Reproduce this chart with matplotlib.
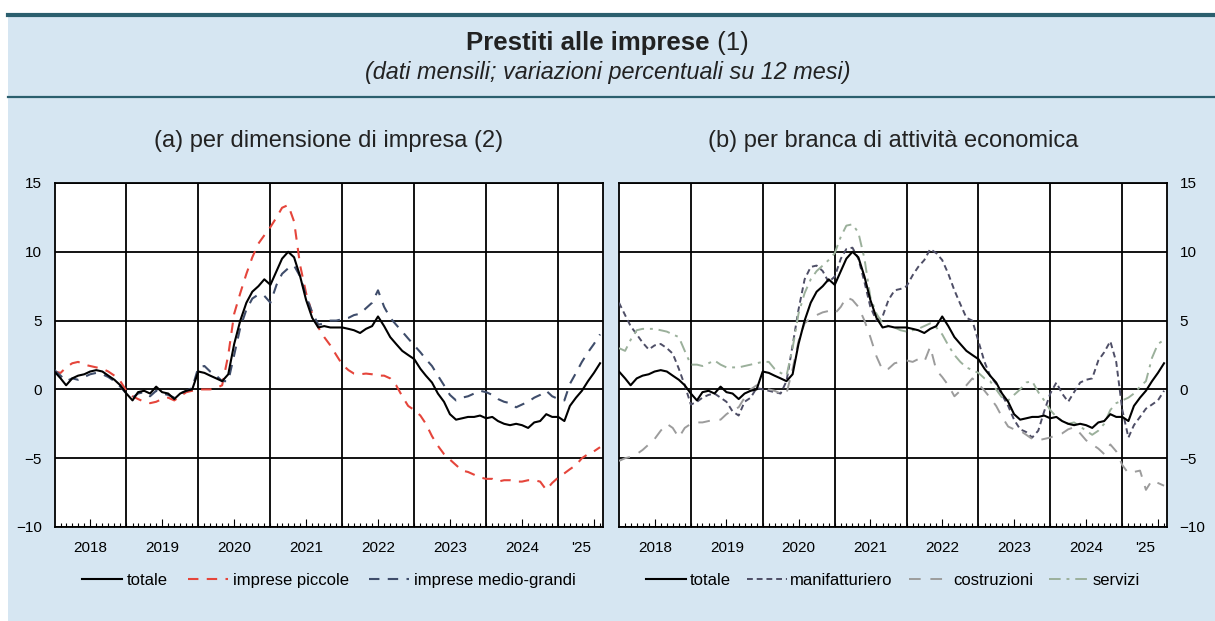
import pandas as pd
import matplotlib
matplotlib.use("Agg")
import matplotlib.pyplot as plt
from matplotlib.lines import Line2D
from matplotlib.patches import Rectangle

plt.rcParams['font.family'] = ['Liberation Sans', 'DejaVu Sans']

# dati mensili gen 2018 - ago 2025 (variazioni % su 12 mesi)
mesi = pd.date_range("2018-01-01", periods=92, freq="MS")

totale = [1.3, 0.8, 0.3, 0.8, 1.0, 1.1, 1.3, 1.4, 1.3, 1.0, 0.7, 0.3,
          -0.3, -0.8, -0.2, -0.1, -0.3, 0.2, -0.2, -0.3, -0.7, -0.3, -0.1, 0.0,
          1.3, 1.2, 1.0, 0.8, 0.6, 1.1, 3.3, 5.0, 6.3, 7.1, 7.5, 8.0,
          7.6, 8.6, 9.5, 10.0, 9.6, 8.2, 6.5, 5.2, 4.5, 4.6, 4.5, 4.5,
          4.5, 4.4, 4.3, 4.1, 4.4, 4.6, 5.3, 4.6, 3.8, 3.3, 2.8, 2.5,
          2.2, 1.5, 1.0, 0.5, -0.3, -0.9, -1.8, -2.2, -2.1, -2.0, -2.0, -1.9,
          -2.1, -2.0, -2.3, -2.5, -2.6, -2.5, -2.6, -2.8, -2.4, -2.3, -1.8, -2.0,
          -2.0, -2.3, -1.2, -0.6, -0.1, 0.6, 1.2, 1.9]

imprese_piccole = [1.3, 1.2, 1.6, 1.9, 2.0, 1.8, 1.7, 1.6, 1.5, 1.3, 1.0, 0.6,
                   -0.1, -0.5, -0.7, -0.9, -1.0, -0.9, -0.7, -0.6, -0.8, -0.5, -0.2, -0.1,
                   0.0, 0.0, 0.0, 0.1, 0.3, 2.5, 5.5, 7.0, 8.4, 9.6, 10.6, 11.2,
                   11.8, 12.5, 13.2, 13.4, 12.2, 9.0, 7.0, 5.5, 4.5, 3.8, 3.2, 2.5,
                   1.8, 1.4, 1.15, 1.1, 1.15, 1.1, 1.0, 1.0, 0.8, 0.3, -0.5, -1.2,
                   -1.5, -1.9, -2.5, -3.4, -4.1, -4.7, -5.1, -5.5, -5.9, -6.0, -6.2, -6.4,
                   -6.5, -6.5, -6.7, -6.6, -6.6, -6.7, -6.7, -6.6, -6.6, -6.7, -7.3, -6.8,
                   -6.4, -6.1, -5.8, -5.5, -5.0, -4.7, -4.5, -4.2]

imprese_medio_grandi = [1.4, 1.0, 0.6, 0.8, 0.7, 0.9, 1.1, 1.2, 1.1, 0.9, 0.6, 0.2,
                        -0.3, -0.6, -0.3, -0.2, -0.5, -0.1, -0.3, -0.4, -0.6, -0.3, -0.1, 0.1,
                        1.6, 1.7, 1.3, 1.0, 0.6, 0.6, 2.5, 4.5, 5.8, 6.6, 6.9, 6.8,
                        6.3, 7.6, 8.4, 8.8, 9.0, 8.2, 6.8, 5.6, 4.7, 4.8, 5.0, 5.0,
                        5.1, 5.2, 5.4, 5.5, 5.9, 6.3, 7.2, 6.0, 5.2, 4.7, 4.2, 3.7,
                        3.2, 2.7, 2.2, 1.7, 1.0, 0.3, -0.4, -0.8, -0.6, -0.5, -0.3, -0.1,
                        -0.2, -0.4, -0.7, -0.9, -1.0, -1.3, -1.1, -0.9, -0.6, -0.4, -0.1, -0.5,
                        -0.7, -0.8, 0.4, 1.2, 2.0, 2.7, 3.3, 4.0]

manifatturiero = [6.3, 5.4, 4.6, 4.0, 3.4, 2.9, 3.2, 3.3, 3.0, 2.6, 1.5, 0.3,
                  -1.1, -0.9, -0.6, -0.4, -0.3, -0.6, -0.9, -1.6, -1.9, -0.9, -0.6, 0.1,
                  0.0, -0.1, -0.2, -0.3, 0.6, 3.2, 5.8, 8.0, 8.9, 9.0, 8.6, 7.8,
                  8.2, 9.5, 10.2, 10.3, 9.5, 7.8, 6.0, 5.0, 5.3, 6.5, 7.2, 7.3,
                  7.5, 8.3, 8.9, 9.4, 10.2, 9.9, 9.4, 8.4, 7.2, 6.2, 5.2, 5.0,
                  3.5, 2.0, 1.0, 0.4, -0.4, -1.2, -2.2, -2.9, -3.1, -3.5, -3.0, -1.6,
                  -0.3, 0.5, -0.3, -0.9, -0.2, 0.5, 0.7, 0.8, 2.1, 2.7, 3.5, 2.0,
                  -1.5, -3.5, -2.6, -2.0, -1.4, -1.1, -0.8, -0.1]

costruzioni = [-5.2, -5.0, -4.9, -4.7, -4.4, -4.0, -3.6, -3.0, -2.5, -2.8, -3.5, -2.8,
               -2.5, -2.4, -2.4, -2.3, -2.2, -2.2, -1.8, -1.5, -1.3, -0.6, 0.0, 0.3,
               0.2, 0.0, -0.1, -0.3, -0.3, 1.5, 3.5, 4.8, 5.2, 5.4, 5.6, 5.7,
               5.5, 6.0, 6.7, 6.5, 6.0, 5.0, 3.8, 2.4, 1.4, 1.5, 1.9, 2.0,
               2.1, 2.0, 2.2, 2.0, 3.1, 1.4, 0.9, 0.3, -0.5, -0.1, 0.3, 0.8,
               0.4, -0.1, -0.6, -1.2, -2.0, -2.7, -2.9, -3.0, -3.3, -3.6, -3.7, -3.6,
               -3.5, -3.3, -3.2, -2.9, -2.75, -3.2, -3.7, -4.0, -4.3, -4.7, -4.0, -4.5,
               -5.5, -6.1, -6.0, -5.9, -7.3, -6.6, -6.8, -7.0]

servizi = [3.0, 2.8, 3.6, 4.3, 4.4, 4.4, 4.4, 4.3, 4.2, 4.0, 3.8, 2.8,
           1.8, 1.8, 1.7, 1.9, 2.1, 1.8, 1.6, 1.6, 1.6, 1.7, 1.8, 1.9,
           2.0, 2.0, 1.5, 1.2, 1.0, 3.0, 5.5, 7.0, 8.0, 8.6, 9.0, 9.4,
           9.9, 11.1, 11.9, 12.0, 11.4, 9.5, 6.7, 5.5, 4.8, 4.6, 4.5, 4.3,
           4.2, 4.3, 4.4, 4.6, 4.8, 4.5, 4.0, 3.2, 2.5, 2.0, 1.6, 1.4,
           1.2, 0.8, 0.6, 0.0, -0.6, -0.8, -0.4, 0.0, 0.5, 0.6, -0.2, -0.8,
           -1.5, -2.0, -2.3, -2.5, -2.4, -2.7, -3.0, -3.3, -3.0, -2.5, -1.5, -1.0,
           -0.8, -0.6, -0.3, 0.2, 0.6, 2.3, 3.3, 3.6]

anni = [2018, 2019, 2020, 2021, 2022, 2023, 2024, 2025]
etichette_anni = ["2018", "2019", "2020", "2021", "2022", "2023", "2024", "'25"]

W, H = 1215, 621
BG = "#d6e6f2"
TEAL = "#2b5f6e"

fig = plt.figure(figsize=(W / 100, H / 100), dpi=100)
fig.patch.set_facecolor("white")
fig.patches.append(Rectangle((8 / W, 0), 1 - 8 / W, 1 - 13 / H, transform=fig.transFigure,
                             facecolor=BG, edgecolor="none", zorder=-10))
fig.lines.append(Line2D([8 / W, 1], [1 - 15 / H] * 2, transform=fig.transFigure, color=TEAL, lw=3))
fig.lines.append(Line2D([8 / W, 1], [1 - 97 / H] * 2, transform=fig.transFigure, color=TEAL, lw=1.6))

# titolo: parte in grassetto + "(1)"
renderer = fig.canvas.get_renderer()
t1 = fig.text(0.5, 1 - 43 / H, "Prestiti alle imprese", fontsize=18.5, fontweight="bold",
              ha="left", va="center", color="#222222")
t2 = fig.text(0.5, 1 - 43 / H, " (1)", fontsize=18.5, ha="left", va="center", color="#222222")
w1 = t1.get_window_extent(renderer).width
w2 = t2.get_window_extent(renderer).width
x_start = (W - (w1 + w2)) / 2
t1.set_x(x_start / W)
t2.set_x((x_start + w1) / W)
fig.text(0.5, 1 - 73 / H, "(dati mensili; variazioni percentuali su 12 mesi)", fontsize=16.8,
         style="italic", ha="center", va="center", color="#222222")

x_fine = pd.Timestamp("2025-08-16")


def prepara_asse(ax, lato):
    ax.set_facecolor("white")
    ax.set_xlim(pd.Timestamp("2018-01-01"), x_fine)
    ax.set_ylim(-10, 15)
    ax.set_yticks(range(-10, 16, 5))
    ax.set_axisbelow(True)
    ax.yaxis.grid(True, color="black", lw=1.3)
    for a in anni[1:]:
        ax.axvline(pd.Timestamp(f"{a}-01-01"), color="black", lw=1.3, zorder=1)
    for s in ax.spines.values():
        s.set_linewidth(1.3)
        s.set_color("black")
    if lato == "right":
        ax.yaxis.tick_right()
    ax.tick_params(axis="y", length=0, labelsize=11, pad=9)

    # etichette anni al centro di ogni anno visibile
    pos = []
    for a in anni:
        inizio = pd.Timestamp(f"{a}-01-01")
        fine = min(pd.Timestamp(f"{a + 1}-01-01"), x_fine)
        pos.append(inizio + (fine - inizio) / 2)
    ax.set_xticks(pos)
    ax.set_xticklabels(etichette_anni)
    ax.tick_params(axis="x", which="major", length=0, labelsize=11, pad=10)

    tacche = pd.date_range("2018-02-01", "2025-08-01", freq="MS")
    ax.set_xticks(tacche, minor=True)
    ax.tick_params(axis="x", which="minor", direction="in", length=3, width=0.8)
    for tk, d in zip(ax.xaxis.get_minor_ticks(), tacche):
        if d.month == 7:
            tk.tick1line.set_markersize(6)


axL = fig.add_axes([54.5 / W, 1 - 527 / H, (603 - 54.5) / W, 344 / H])
axR = fig.add_axes([619 / W, 1 - 527 / H, (1167 - 619) / W, 344 / H])
prepara_asse(axL, "left")
prepara_asse(axR, "right")

# (a) per dimensione di impresa
axL.plot(mesi, totale, color="black", lw=1.5, label="totale", zorder=4)
axL.plot(mesi, imprese_piccole, color="#e5453b", lw=1.5, dashes=(5, 4), label="imprese piccole", zorder=3)
axL.plot(mesi, imprese_medio_grandi, color="#3f4d6b", lw=1.5, dashes=(5, 4),
         label="imprese medio-grandi", zorder=3)
axL.text(0.5, 1.122, "(a) per dimensione di impresa (2)", transform=axL.transAxes,
         ha="center", va="center", fontsize=17, color="#222222")
axL.legend(loc="center", bbox_to_anchor=(0.5, -0.155), ncol=3, frameon=False, fontsize=12,
           handlelength=2.4, handletextpad=0.3, columnspacing=1.2)

# (b) per branca di attivita economica
axR.plot(mesi, totale, color="black", lw=1.5, label="totale", zorder=4)
axR.plot(mesi, manifatturiero, color="#4e4e66", lw=1.4, dashes=(3, 2), label="manifatturiero", zorder=3)
axR.plot(mesi, costruzioni, color="#9c9c9c", lw=1.4, dashes=(6, 5), label="costruzioni", zorder=3)
axR.plot(mesi, servizi, color="#9bb09b", lw=1.4, dashes=(6, 3, 1.5, 3), label="servizi", zorder=3)
axR.text(0.5, 1.122, "(b) per branca di attività economica", transform=axR.transAxes,
         ha="center", va="center", fontsize=17, color="#222222")
axR.legend(loc="center", bbox_to_anchor=(0.5, -0.155), ncol=4, frameon=False, fontsize=12,
           handlelength=2.4, handletextpad=0.2, columnspacing=1.0)

fig.savefig("out.png", dpi=100, facecolor=fig.get_facecolor())
